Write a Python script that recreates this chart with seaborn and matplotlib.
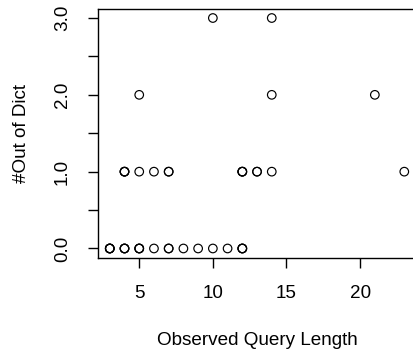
import numpy as np
import pandas as pd
import matplotlib
matplotlib.use("Agg")
import matplotlib.pyplot as plt
import seaborn as sns

# 관측 데이터 (겹치는 점은 n_obs 만큼 반복)
query_len = [3, 4, 5, 6, 7, 8, 9, 10, 11, 12,
             4, 5, 6, 7, 12, 13, 14, 23,
             5, 14, 21,
             10, 14]
out_of_dict = [0, 0, 0, 0, 0, 0, 0, 0, 0, 0,
               1, 1, 1, 1, 1, 1, 1, 1,
               2, 2, 2,
               3, 3]
n_obs = [4, 3, 3, 1, 2, 1, 1, 1, 1, 3,
         3, 1, 1, 2, 3, 2, 1, 1,
         1, 1, 1,
         1, 1]

x_ticks = [5, 10, 15, 20]
y_ticks = [0, 0.5, 1, 1.5, 2, 2.5, 3]
y_labels = ["0.0", "", "1.0", "", "2.0", "", "3.0"]

df = pd.DataFrame({
    "len": np.repeat(query_len, n_obs),
    "ood": np.repeat(out_of_dict, n_obs),
})

sns.set_style("ticks")
plt.rcParams["font.family"] = ["Liberation Sans", "DejaVu Sans"]
plt.rcParams["text.color"] = "black"
plt.rcParams["axes.labelcolor"] = "black"
plt.rcParams["xtick.color"] = "black"
plt.rcParams["ytick.color"] = "black"

fig = plt.figure(figsize=(4.14, 3.49), dpi=100)
ax = fig.add_axes([0.2367, 0.2616, 0.7683, 0.7132])

sns.scatterplot(
    data=df, x="len", y="ood", ax=ax,
    marker="o", s=38, facecolor="none", edgecolor="black", linewidth=0.85,
)

ax.set_xlim(2.2, 23.8)
ax.set_ylim(-0.12, 3.12)
ax.set_xticks(x_ticks)
ax.set_yticks(y_ticks)
ax.set_yticklabels(y_labels, rotation=90, va="center")

for s in ax.spines.values():
    s.set_visible(True)
    s.set_color("black")
    s.set_linewidth(1.0)

ax.tick_params(axis="both", length=7.5, width=1.0, color="black",
               labelcolor="black", labelsize=13.6, pad=12, direction="out")
ax.set_xlabel("Observed Query Length", fontsize=13.6, labelpad=22)
ax.set_ylabel("#Out of Dict", fontsize=13.6, labelpad=17)

plt.savefig("out.png", dpi=100)
